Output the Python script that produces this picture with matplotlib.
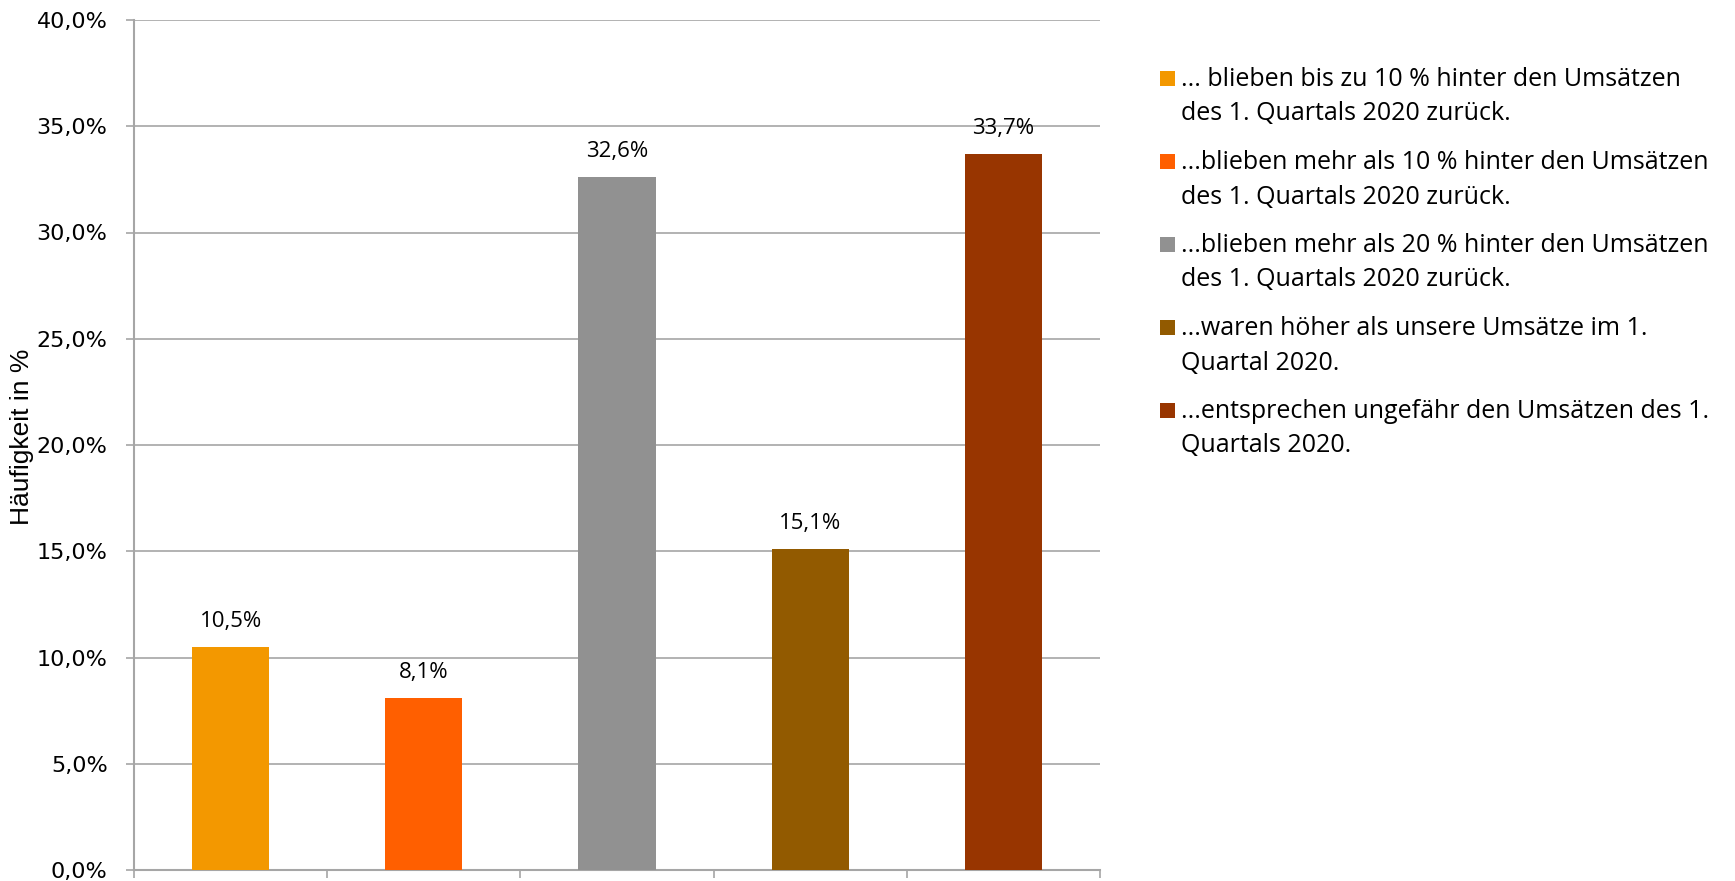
import matplotlib.pyplot as plt
import numpy as np
from matplotlib.patches import Rectangle

# answer shares (in %)
values = [10.5, 8.1, 32.6, 15.1, 33.7]
colors = ["#F39800", "#FF5F00", "#919191", "#925A00", "#983500"]
labels = [
    "... blieben bis zu 10 % hinter den Umsätzen\ndes 1. Quartals 2020 zurück.",
    "...blieben mehr als 10 % hinter den Umsätzen\ndes 1. Quartals 2020 zurück.",
    "...blieben mehr als 20 % hinter den Umsätzen\ndes 1. Quartals 2020 zurück.",
    "...waren höher als unsere Umsätze im 1.\nQuartal 2020.",
    "...entsprechen ungefähr den Umsätzen des 1.\nQuartals 2020.",
]
yticks = [0, 5, 10, 15, 20, 25, 30, 35, 40]

W, H = 1735, 881
fig = plt.figure(figsize=(W / 100, H / 100), dpi=100)
ax = fig.add_axes([134 / W, 1 - 870 / H, 966 / W, 850 / H])

x = np.arange(len(values))
ax.bar(x, values, width=0.4, color=colors, zorder=3)

for xi, v in zip(x, values):
    ax.annotate(f"{v:.1f}%".replace(".", ","), (xi, v), xytext=(0, 14.5),
                textcoords="offset points", ha="center", va="baseline",
                fontsize=16, family="Open Sans", color="black")

ax.set_xlim(-0.5, len(values) - 0.5)
ax.set_ylim(0, 40)
ax.set_yticks(yticks)
ax.set_yticklabels([f"{t:.1f}%".replace(".", ",") for t in yticks],
                   fontsize=16, family="DejaVu Sans")
ax.set_xticks(np.arange(len(values) + 1) - 0.5)
ax.set_xticklabels([])
ax.tick_params(axis="x", length=6, color="#A6A6A6", direction="out", width=1.2)
ax.tick_params(axis="y", length=6, color="#A6A6A6", direction="out", width=1.2, pad=13)
ax.grid(axis="y", color="#A6A6A6", linewidth=1.2, zorder=0)
for side in ["top", "right"]:
    ax.spines[side].set_visible(False)
for side in ["left", "bottom"]:
    ax.spines[side].set_color("#A6A6A6")
    ax.spines[side].set_linewidth(1.5)

ax.set_ylabel("Häufigkeit in %", fontsize=19,
              family=["Liberation Sans Narrow", "Liberation Sans"])
ax.yaxis.set_label_coords(-0.104, 0.51)

# legend drawn by hand: square aligned with the first line of each entry
for i, (c, lab) in enumerate(zip(colors, labels)):
    base = 86 + i * 83
    fig.patches.append(Rectangle((1160 / W, 1 - base / H), 15 / W, 15 / H,
                                 transform=fig.transFigure, facecolor=c))
    for j, line in enumerate(lab.split("\n")):
        fig.text(1181 / W, 1 - (base + j * 34.5) / H, line, ha="left", va="baseline",
                 fontsize=18, family="Open Sans", color="black")

fig.savefig("out.png", dpi=100)
